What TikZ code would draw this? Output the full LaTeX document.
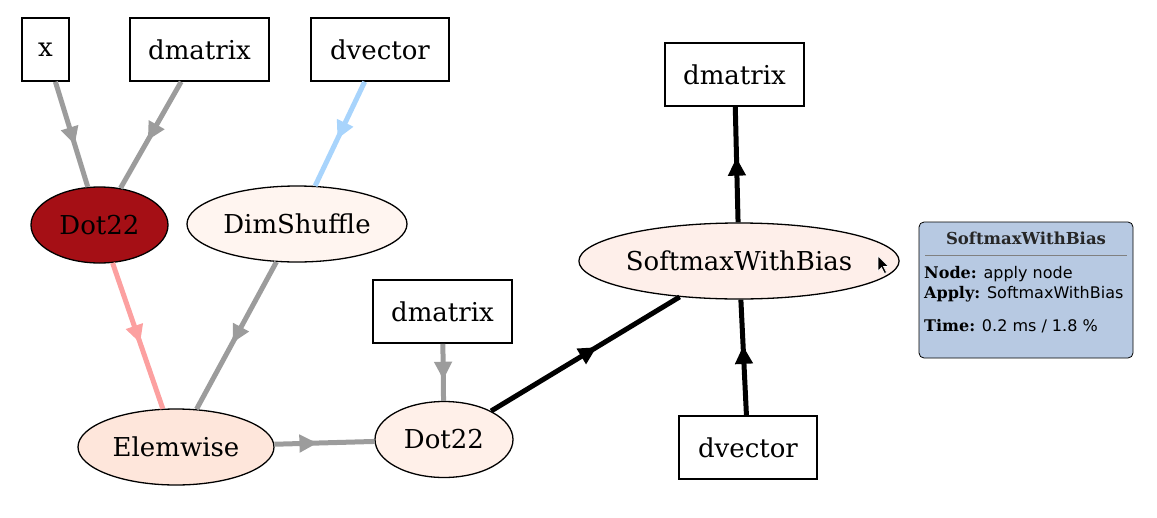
\documentclass[tikz,border=0pt]{standalone}
\usepackage{fontspec}
\setmainfont{DejaVu Serif}
\newfontfamily\tipsans{DejaVu Sans}
\usetikzlibrary{shapes.geometric,arrows.meta,decorations.markings}
\definecolor{edgegray}{HTML}{9C9C9C}
\definecolor{edgeblue}{HTML}{A8D4FC}
\definecolor{edgepink}{HTML}{FCA0A0}
\definecolor{redfill}{HTML}{A50F15}
\definecolor{fillA}{HTML}{FFF5F0}
\definecolor{fillB}{HTML}{FEE6DB}
\definecolor{fillC}{HTML}{FFF0E9}
\definecolor{fillD}{HTML}{FEEFEA}
\definecolor{tipfill}{HTML}{B7C9E2}
\begin{document}
\begin{tikzpicture}[x=1pt,y=-1pt,
  varbox/.style={draw,line width=1.6pt,minimum height=63pt,inner sep=0pt,font=\fontsize{26}{30}\selectfont},
  opnode/.style={draw,ellipse,line width=1.3pt,inner sep=0pt,minimum height=76pt,font=\fontsize{26}{30}\selectfont},
  edge/.style={line width=5pt},
  midarrow/.style={postaction={decorate},decoration={markings,mark=at position #1 with {\arrow{Triangle[width=17pt,length=18pt]}}}},
  midarrow/.default=0.6,
  tiptext/.style={anchor=west,inner sep=0pt,font=\fontsize{16}{19}\selectfont}]
\useasboundingbox (0,0) rectangle (1157,517);
% variable boxes
\node[varbox,minimum width=47pt] (x) at (45.5,49.5) {x};
\node[varbox,minimum width=139pt] (dm1) at (199.5,49.5) {dmatrix};
\node[varbox,minimum width=138pt] (dv1) at (380,49.5) {dvector};
\node[varbox,minimum width=139pt] (dm2) at (734.5,74.5) {dmatrix};
\node[varbox,minimum width=139pt] (dm3) at (442.5,311.5) {dmatrix};
\node[varbox,minimum width=138pt] (dv2) at (748,447.5) {dvector};
% op nodes
\node[opnode,fill=redfill,minimum width=137pt] (dot1) at (99.5,225) {Dot22};
\node[opnode,fill=fillA,minimum width=220pt] (dims) at (297,224) {DimShuffle};
\node[opnode,fill=fillB,minimum width=196pt] (elem) at (176,447) {Elemwise};
\node[opnode,fill=fillC,minimum width=138pt] (dot2) at (444,439.5) {Dot22};
\node[opnode,fill=fillD,minimum width=320pt] (soft) at (739,261) {SoftmaxWithBias};
% edges
\draw[edge,edgegray,midarrow] (x) -- (dot1);
\draw[edge,edgegray,midarrow=0.55] (dm1) -- (dot1);
\draw[edge,edgeblue,midarrow=0.55] (dv1) -- (dims);
\draw[edge,edgepink,midarrow=0.55] (dot1) -- (elem);
\draw[edge,edgegray,midarrow=0.55] (dims) -- (elem);
\draw[edge,edgegray,midarrow=0.43] (elem) -- (dot2);
\draw[edge,edgegray,midarrow=0.63] (dm3) -- (dot2);
\draw[edge,black,midarrow=0.56] (dot2) -- (soft);
\draw[edge,black,midarrow=0.56] (soft) -- (dm2);
\draw[edge,black,midarrow=0.6] (dv2) -- (soft);
% cursor
\coordinate (cur) at (878,256);
\draw[fill=black,draw=white,line width=0.6pt] (cur) -- ++(0,15) -- ++(3.5,-3.5) -- ++(3,6) -- ++(2,-1) -- ++(-3,-6) -- ++(5,0) -- cycle;
% tooltip
\node[draw,rounded corners=5pt,fill=tipfill,line width=0.8pt,minimum width=214pt,minimum height=136pt,inner sep=0pt] (tip) at (1026,290) {};
\node[font=\bfseries\fontsize{16.5}{19}\selectfont,text=black!85,anchor=center] (tiptitle) at (1026,238) {SoftmaxWithBias};
\draw[gray,line width=0.8pt] (925,255) -- (1127,255);
\node[tiptext] (l1) at (924,274) {{\bfseries Node:} {\tipsans apply node}};
\node[tiptext] (l2) at (924,294) {{\bfseries Apply:} {\tipsans SoftmaxWithBias}};
\node[tiptext] (l3) at (924,326) {{\bfseries Time:} {\tipsans 0.2 ms / 1.8 \%}};
\end{tikzpicture}
\end{document}
